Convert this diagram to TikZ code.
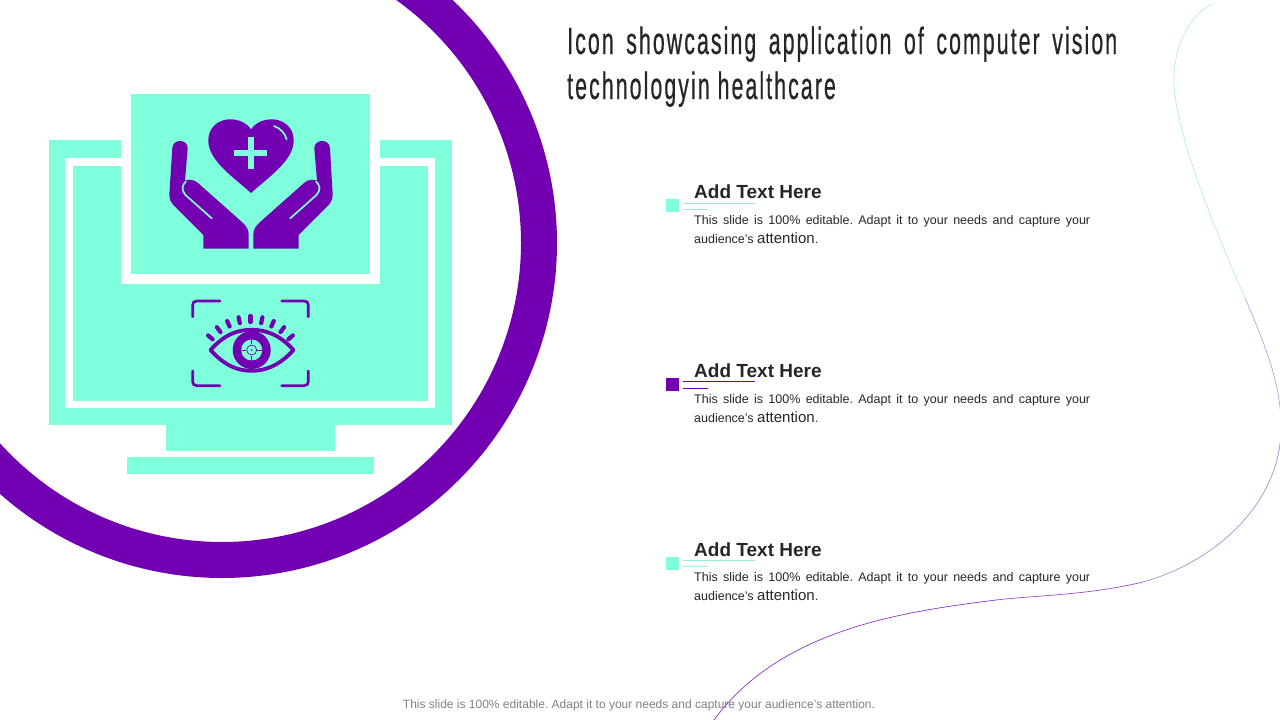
\documentclass[tikz,border=0pt]{standalone}
\usepackage{fontspec}
\setmainfont{Liberation Sans}
\newfontfamily\titlefont[FakeStretch=0.56, FakeBold=0.5, LetterSpace=5.5]{Liberation Sans}
\hyphenpenalty=10000
\tolerance=9999
\definecolor{mint}{HTML}{7FFFDB}
\definecolor{violet}{HTML}{7200B2}
\definecolor{inktext}{HTML}{262626}
\definecolor{paleline}{HTML}{9FE8DC}
\tikzset{
  icon/.style={fill=violet, draw=none},
  cut/.style={draw=mint, line width=1.7pt, line cap=round},
  lash/.style={draw=violet, line width=4.2pt, line cap=round},
  corner/.style={draw=violet, line width=2.7pt, line cap=round},
  panel/.style={fill=mint, draw=none},
  heading/.style={anchor=base west, inner sep=0pt, font=\bfseries\fontsize{19}{22}\selectfont, text=inktext},
  blurb/.style={anchor=north west, inner sep=0pt, text width=396pt, align=justify, font=\frenchspacing\fontsize{12.5}{18.6}\selectfont, text=inktext},
  bulletbox/.style={minimum size=13pt, inner sep=0pt, draw=none},
  swash/.style={line width=0.7pt}
}
\begin{document}
\begin{tikzpicture}[x=1pt, y=-1pt]
    \useasboundingbox (0,0) rectangle (1280,720);
    \clip (0,0) rectangle (1280,720);

    % ring
    \begin{scope}[shift={(222,243)}]
    \draw[violet, line width=36pt] plot[smooth, samples=111, domain=-70:150] (\x:317);
    \end{scope}

    % monitor
    \fill[panel] (49,140) rectangle (452,425);
    \draw[white, line width=7.5pt] (69,162) rectangle (431.5,404.5);
    \fill[panel] (166,425) rectangle (335,451);
    \fill[panel] (127,457) rectangle (374,474);
    \fill[white] (121,84) rectangle (380,284);
    \fill[panel] (131,94) rectangle (370,274);

    % heart
    \fill[icon] (251,193) .. controls (232,176) and (208,160) .. (208.3,140)
      .. controls (208.5,127) and (219,119.3) .. (230,119.3)
      .. controls (239,119.3) and (247,123) .. (251,129.5)
      .. controls (255,123) and (263,119.3) .. (272,119.3)
      .. controls (283,119.3) and (293.5,127) .. (293.7,140)
      .. controls (294,160) and (270,176) .. (251,193) -- cycle;
    \fill[panel] (234.3,149.5) rectangle (267.3,156);
    \fill[panel] (247.8,136.7) rectangle (254.3,169.3);
    \draw[cut] (274,126) .. controls (280,128) and (285,133) .. (286.7,139.5);

    % hands
    \fill[icon] (172.3,148.3) .. controls (172.5,138.5) and (187.7,138.5) .. (187.7,148.3)
      -- (185,180.7) .. controls (187,179) and (194,179) .. (198.3,183.3)
      -- (243,223) .. controls (247,227) and (248.7,230) .. (248.7,235)
      -- (248.7,248.7) -- (203.3,248.7) -- (203.3,235) -- (173.3,205)
      .. controls (170,201) and (169.3,198) .. (169.3,195) -- cycle;
    \draw[cut] (211.7,218.3) -- (185.5,195) .. controls (181,190) and (182,185) .. (186,181.5);
    \fill[icon] (330,148.3) .. controls (329.8,138.5) and (314.3,138.5) .. (314.3,148.3)
      -- (317,180.7) .. controls (315,179) and (308,179) .. (303.7,183.3)
      -- (259,223) .. controls (255,227) and (253.3,230) .. (253.3,235)
      -- (253.3,248.7) -- (298.7,248.7) -- (298.7,235) -- (328.7,205)
      .. controls (332,201) and (332.7,198) .. (332.7,195) -- cycle;
    \draw[cut] (290.3,218.3) -- (316.5,195) .. controls (321,190) and (320,185) .. (316,181.5);

    % eye frame
    \draw[corner] (220,301) -- (197,301) .. controls (194,301) and (192.7,302.5) .. (192.7,305) -- (192.7,316.7);
    \draw[corner] (281.7,301) -- (304,301) .. controls (307,301) and (308.3,302.5) .. (308.3,305) -- (308.3,316.7);
    \draw[corner] (220,385.7) -- (197,385.7) .. controls (194,385.7) and (192.7,384) .. (192.7,381.7) -- (192.7,371);
    \draw[corner] (281.7,385.7) -- (304,385.7) .. controls (307,385.7) and (308.3,384) .. (308.3,381.7) -- (308.3,371);

    % eye
    \draw[violet, line width=3.8pt, line join=round] (210.5,350) .. controls (225,334) and (238,329.8) .. (251.7,329.8)
      .. controls (265,329.8) and (279,334) .. (293.5,350)
      .. controls (279,366) and (265,370.8) .. (251.7,370.8)
      .. controls (238,370.8) and (225,366) .. (210.5,350) -- cycle;
    \fill[violet] (251.7,350) circle (19);
    \fill[mint] (251.7,350) circle (10.5);
    \draw[violet, line width=0.7pt] (251.7,350) circle (5);
    \draw[violet, line width=1pt] (241.5,350) -- (246,350);
    \draw[violet, line width=1pt] (257.4,350) -- (262,350);
    \draw[violet, line width=1pt] (251.7,339.5) -- (251.7,344.3);
    \draw[violet, line width=1pt] (251.7,355.7) -- (251.7,360.5);
    \fill[violet] (251.7,350) circle (0.9);

    % lashes
    \begin{scope}[shift={(250.5,372)}]
    \draw[lash] (-40.8:50) -- (-40.8:56);
    \draw[lash] (-53.1:50) -- (-53.1:56);
    \draw[lash] (-65.4:50) -- (-65.4:56);
    \draw[lash] (-77.7:50) -- (-77.7:56);
    \draw[lash] (-90:50) -- (-90:56);
    \draw[lash] (-102.3:50) -- (-102.3:56);
    \draw[lash] (-114.6:50) -- (-114.6:56);
    \draw[lash] (-126.9:50) -- (-126.9:56);
    \draw[lash] (-139.2:50) -- (-139.2:56);
    \end{scope}

    % swash
    \draw[swash, color=paleline!80!white] (1212,4) .. controls (1190,15) and (1174,45) .. (1174,80);
    \draw[swash, color=paleline!80!white] (1174,80) .. controls (1174,130) and (1215,230) .. (1245,298);
    \draw[swash, color=paleline!70!violet!85!white] (1245,298) .. controls (1265,345) and (1282,385) .. (1281,430);
    \draw[swash, color=paleline!45!violet!75!white] (1281,430) .. controls (1280,500) and (1220,560) .. (1144,581.7);
    \draw[swash, color=violet!70!white] (1144,581.7) .. controls (1090,595) and (1040,595) .. (996,600);
    \draw[swash, color=violet!80!white] (996,600) .. controls (900,612) and (780,630) .. (714,720);

    % title
    \node[anchor=base west, inner sep=0pt, text width=550pt, align=justify, text=inktext,
      font=\titlefont\fontsize{38}{45}\selectfont] (Title) at (567,54)
      {Icon showcasing application of computer vision technologyin healthcare};

    % items
    \node[bulletbox, fill=mint] (Bul1) at (672.5,205.5) {};
    \node[heading] (Head1) at (694,198) {Add Text Here};
    \node[blurb] (Text1) at (694,215.3) {This slide is 100\% editable. Adapt it to your needs and capture your audience's {\fontsize{15}{18.6}\selectfont attention}.};
    \coordinate (Rule1a) at (683,203.3);
    \coordinate (Rule1b) at (755,203.3);
    \coordinate (Rule1c) at (683,209.3);
    \coordinate (Rule1d) at (708,209.3);
    \draw[paleline, line width=0.8pt] (Rule1a) -- (Rule1b);
    \draw[paleline, line width=0.8pt] (Rule1c) -- (Rule1d);

    \node[bulletbox, fill=violet] (Bul2) at (672.5,384.5) {};
    \node[heading] (Head2) at (694,377) {Add Text Here};
    \node[blurb] (Text2) at (694,394.3) {This slide is 100\% editable. Adapt it to your needs and capture your audience's {\fontsize{15}{18.6}\selectfont attention}.};
    \coordinate (Rule2a) at (683,381.3);
    \coordinate (Rule2b) at (755,381.3);
    \coordinate (Rule2c) at (683,388.3);
    \coordinate (Rule2d) at (708,388.3);
    \draw[violet, line width=0.8pt] (Rule2a) -- (Rule2b);
    \draw[violet, line width=0.8pt] (Rule2c) -- (Rule2d);

    \node[bulletbox, fill=mint] (Bul3) at (672.5,563.5) {};
    \node[heading] (Head3) at (694,556) {Add Text Here};
    \node[blurb] (Text3) at (694,572.3) {This slide is 100\% editable. Adapt it to your needs and capture your audience's {\fontsize{15}{18.6}\selectfont attention}.};
    \coordinate (Rule3a) at (683,560.3);
    \coordinate (Rule3b) at (755,560.3);
    \coordinate (Rule3c) at (683,566.8);
    \coordinate (Rule3d) at (708,566.8);
    \draw[paleline, line width=0.8pt] (Rule3a) -- (Rule3b);
    \draw[paleline, line width=0.8pt] (Rule3c) -- (Rule3d);

    % footer
    \node[anchor=base, inner sep=0pt, text=black!50, font=\frenchspacing\fontsize{12}{14}\selectfont] (Footer) at (639,708.5)
      {This slide is 100\% editable. Adapt it to your needs and capture your audience's attention.};
\end{tikzpicture}
\end{document}
